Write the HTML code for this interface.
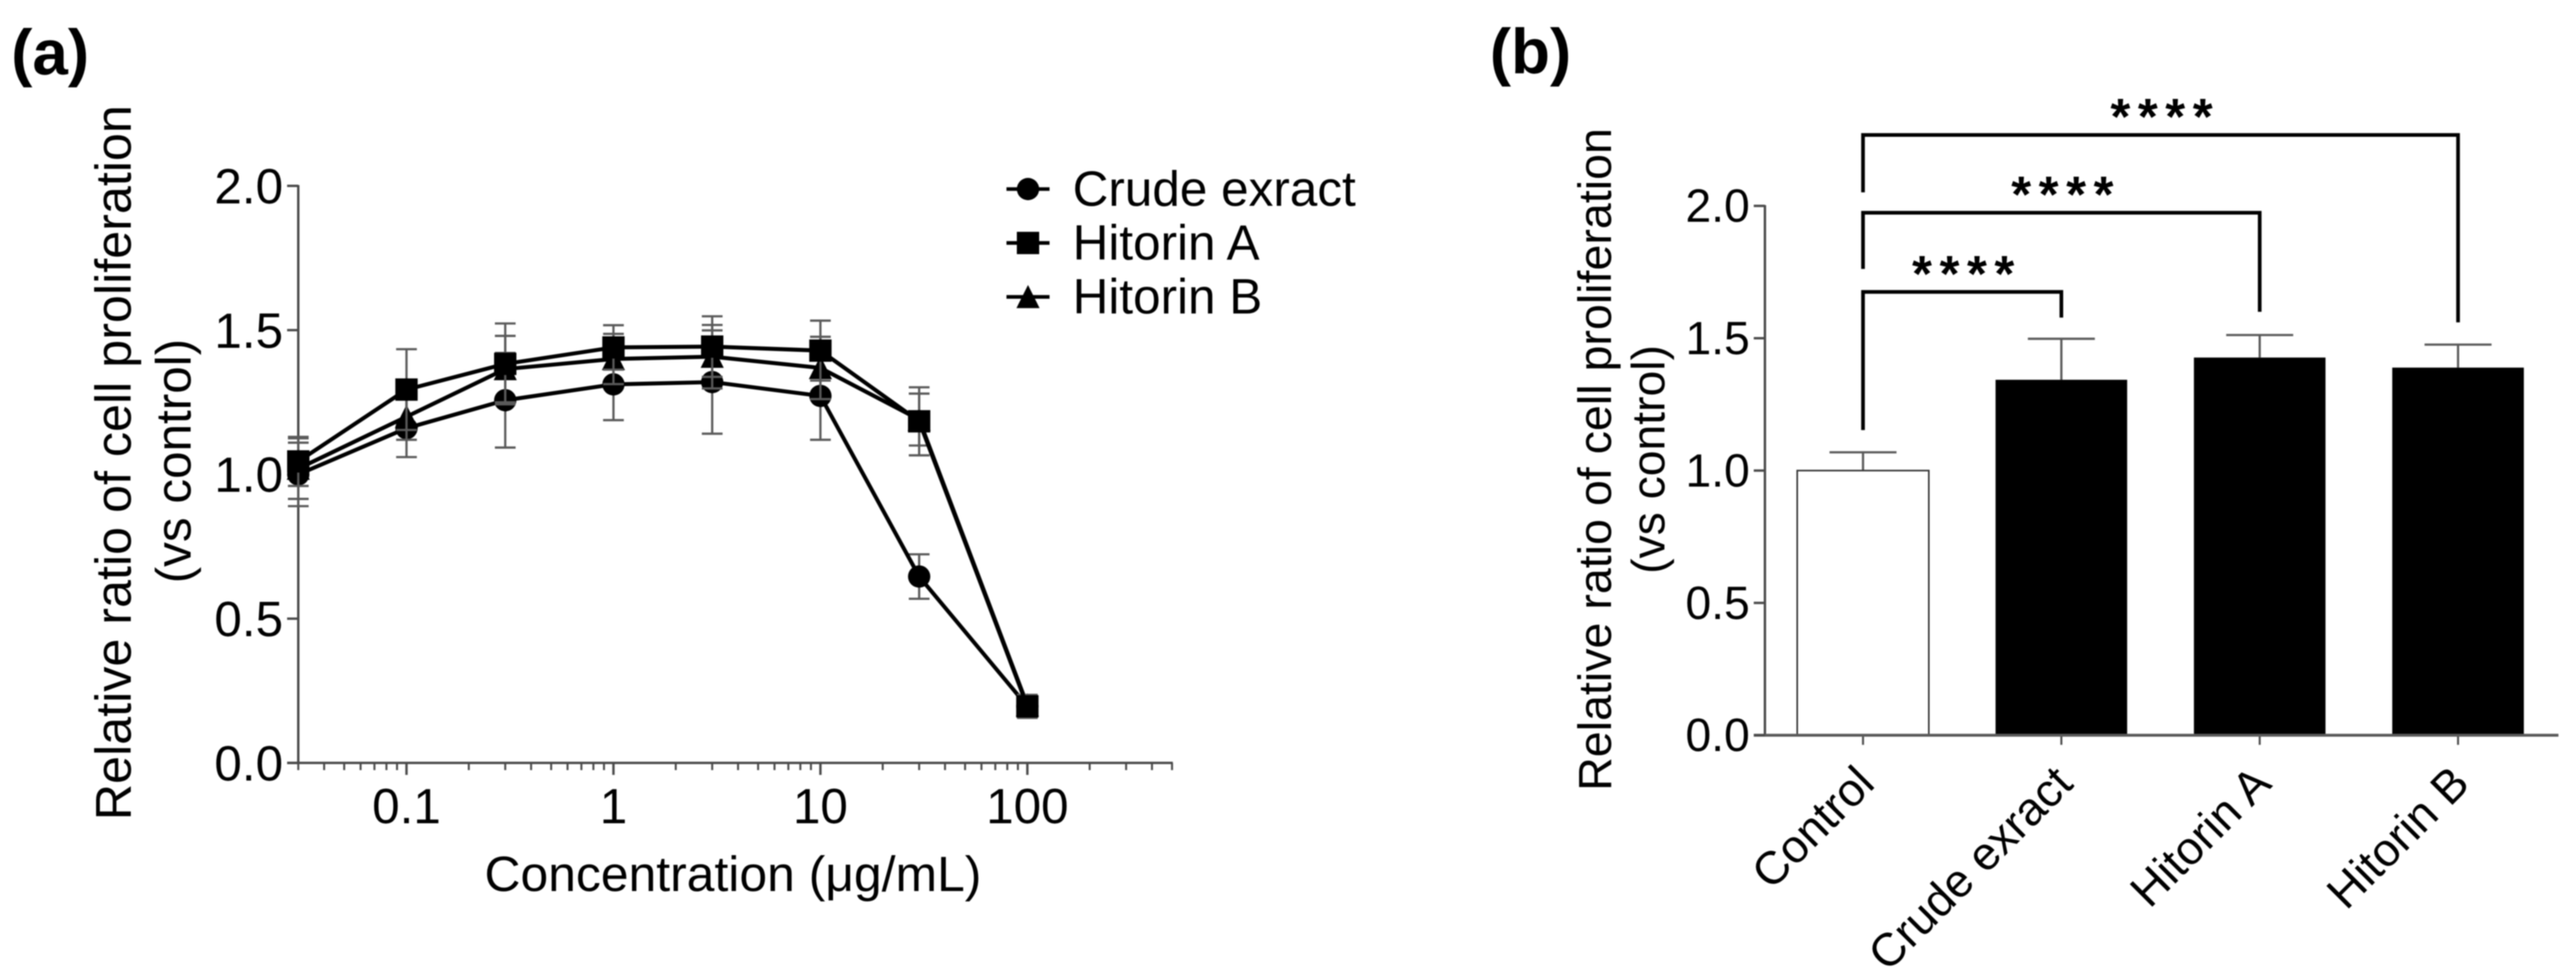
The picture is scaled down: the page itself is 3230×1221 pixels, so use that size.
<!DOCTYPE html>
<html lang="en">
<head>
<meta charset="utf-8">
<title>Cell proliferation charts</title>
<style>
  html, body { margin: 0; padding: 0; background: #ffffff; }
  body { width: 3230px; height: 1221px; overflow: hidden; }
  svg { display: block; filter: blur(0.7px); }
  text { font-family: "Liberation Sans", Arial, sans-serif; fill: #000; }
</style>
</head>
<body>
<svg id="figure" xmlns="http://www.w3.org/2000/svg" width="3230" height="1221" viewBox="0 0 3230 1221">
  <rect x="0" y="0" width="3230" height="1221" fill="#ffffff"/>
  <text x="14" y="93" font-size="80" font-weight="bold">(a)</text>
  <text x="1868" y="92" font-size="80" font-weight="bold">(b)</text>

  <g id="chartA">
    <text transform="translate(164,580) rotate(-90)" text-anchor="middle" font-size="63">Relative ratio of cell proliferation</text>
    <text transform="translate(239,578) rotate(-90)" text-anchor="middle" font-size="62">(vs control)</text>
    <text x="919" y="1117" text-anchor="middle" font-size="62.5">Concentration (μg/mL)</text>
  </g>

  <g id="chartB">
    <text transform="translate(2020,576) rotate(-90)" text-anchor="middle" font-size="58.4">Relative ratio of cell proliferation</text>
    <text transform="translate(2087,576) rotate(-90)" text-anchor="middle" font-size="58">(vs control)</text>
  </g>
</svg>

<script>
// ---------- Panel (a) data ----------
const concentrations = [0.03, 0.1, 0.3, 1, 3, 10, 30, 100];
const seriesNames = ["Crude exract", "Hitorin A", "Hitorin B"];
const crudeValues = [1.00, 1.16, 1.257, 1.312, 1.32, 1.272, 0.646, 0.196];
const crudeErrors = [0.11, 0.10, 0.164, 0.124, 0.179, 0.152, 0.077, 0.03];
const hitorinAValues = [1.045, 1.294, 1.383, 1.44, 1.443, 1.429, 1.184, 0.196];
const hitorinAErrors = [0.085, 0.14, 0.14, 0.077, 0.105, 0.104, 0.118, 0.04];
const hitorinBValues = [1.02, 1.20, 1.365, 1.40, 1.408, 1.369, 1.19, 0.20];
const hitorinBErrors = [0.105, 0.08, 0.115, 0.087, 0.11, 0.108, 0.09, 0.03];
const yTicksA = [0, 0.5, 1, 1.5, 2];
const yTickLabelsA = ["0.0", "0.5", "1.0", "1.5", "2.0"];
const xMajorTicksA = [0.1, 1, 10, 100];
const xMajorLabelsA = ["0.1", "1", "10", "100"];
const xMinorTicksA = [0.03, 0.04, 0.05, 0.06, 0.07, 0.08, 0.09, 0.2, 0.3, 0.4, 0.5, 0.6, 0.7, 0.8, 0.9, 2, 3, 4, 5, 6, 7, 8, 9, 20, 30, 40, 50, 60, 70, 80, 90, 200, 300, 400, 500];

// ---------- Panel (b) data ----------
const groups = ["Control", "Crude exract", "Hitorin A", "Hitorin B"];
const barValues = [1.0, 1.343, 1.427, 1.389];
const barErrors = [0.069, 0.155, 0.085, 0.087];
const yTicksB = [0, 0.5, 1, 1.5, 2];
const yTickLabelsB = ["0.0", "0.5", "1.0", "1.5", "2.0"];
const bracketTargets = [1, 2, 3];
const bracketLevels = [1.675, 1.974, 2.268];
const bracketLeftEnds = [1.153, 1.762, 2.051];
const bracketRightEnds = [1.578, 1.60, 1.56];
const bracketLabels = ["****", "****", "****"];

// ---------- Helpers ----------
const NS = "http://www.w3.org/2000/svg";
function make(parent, tag, attrs, txt) {
  const el = document.createElementNS(NS, tag);
  for (const k in attrs) el.setAttribute(k, attrs[k]);
  if (txt !== undefined) el.textContent = txt;
  parent.appendChild(el);
  return el;
}
const AXIS = "#4a4a4a";
const ERR = "#5a5a5a";

// ---------- Panel (a) scales ----------
const ya = v => 956.4 - v * 361.7;
const xa = c => 769.2 + 259.5 * Math.log10(c);

const gA = document.getElementById("chartA");

function drawMarker(parent, kind, cx, cy) {
  let m;
  if (kind === 0) {
    m = make(parent, "circle", { cx: cx, cy: cy, r: 14, fill: "#000" });
  } else if (kind === 1) {
    m = make(parent, "rect", { x: cx - 14, y: cy - 14, width: 28, height: 28, fill: "#000" });
  } else {
    m = make(parent, "polygon", { points: (cx - 14.5) + "," + (cy + 14) + " " + (cx + 14.5) + "," + (cy + 14) + " " + cx + "," + (cy - 15), fill: "#000" });
  }
  return m;
}

// axes
let axisY = make(gA, "line", { x1: 374, x2: 374, y1: ya(2) - 1, y2: ya(0) + 1, stroke: AXIS, "stroke-width": 3 });


let axisX = make(gA, "line", { x1: 360, x2: xa(500) + 1, y1: ya(0), y2: ya(0), stroke: AXIS, "stroke-width": 3 });



yTicksA.forEach((v, i) => {
  const t = make(gA, "line", { x1: 360, x2: 374, y1: ya(v), y2: ya(v), stroke: AXIS, "stroke-width": 3 });
  
  
  const l = make(gA, "text", { x: 355, y: ya(v) + 22, "text-anchor": "end", "font-size": 62 }, yTickLabelsA[i]);
  
  
});
xMinorTicksA.forEach(c => {
  const t = make(gA, "line", { x1: xa(c), x2: xa(c), y1: ya(0), y2: ya(0) + 9, stroke: AXIS, "stroke-width": 2.5 });
  
  
});
xMajorTicksA.forEach((c, i) => {
  const t = make(gA, "line", { x1: xa(c), x2: xa(c), y1: ya(0), y2: ya(0) + 15, stroke: AXIS, "stroke-width": 3 });
  
  
  const l = make(gA, "text", { x: xa(c), y: 1032, "text-anchor": "middle", "font-size": 62 }, xMajorLabelsA[i]);
  
  
});

// series: draw order keeps squares on top, as in the source figure
const seriesDraw = [
  { kind: 0, vals: crudeValues, errs: crudeErrors, name: "crude-exract" },
  { kind: 2, vals: hitorinBValues, errs: hitorinBErrors, name: "hitorin-b" },
  { kind: 1, vals: hitorinAValues, errs: hitorinAErrors, name: "hitorin-a" }
];
seriesDraw.forEach(s => {
  const g = make(gA, "g", {});
  
  
  s.vals.forEach((v, i) => {
    const x = xa(concentrations[i]);
    const top = ya(v + s.errs[i]);
    const bot = ya(v - s.errs[i]);
    const stem = make(g, "line", { x1: x, x2: x, y1: top, y2: bot, stroke: ERR, "stroke-width": 2.8 });
    
    
    const c1 = make(g, "line", { x1: x - 13, x2: x + 13, y1: top, y2: top, stroke: ERR, "stroke-width": 2.8 });
    
    
    const c2 = make(g, "line", { x1: x - 13, x2: x + 13, y1: bot, y2: bot, stroke: ERR, "stroke-width": 2.8 });
    
    
  });
  const pts = s.vals.map((v, i) => xa(concentrations[i]) + "," + ya(v)).join(" ");
  const pl = make(g, "polyline", { points: pts, fill: "none", stroke: "#000", "stroke-width": 5, "stroke-linejoin": "round" });
  
  
  s.vals.forEach((v, i) => {
    const m = drawMarker(g, s.kind, xa(concentrations[i]), ya(v));
    
    
  });
});

// legend
const legendKinds = [0, 1, 2];
seriesNames.forEach((n, i) => {
  const cy = 237 + i * 67.6;
  const g = make(gA, "g", {});
  
  
  make(g, "line", { x1: 1262, x2: 1316, y1: cy, y2: cy, stroke: "#000", "stroke-width": 4.6 });
  drawMarker(g, legendKinds[i], 1289, cy);
  make(g, "text", { x: 1345, y: cy + 21, "font-size": 62 }, n);
});

// ---------- Panel (b) scales ----------
const yb = v => 921.7 - v * 331.8;
const xb = i => 2336 + 248.7 * i;
const BAR_W = 165;
const gB = document.getElementById("chartB");

groups.forEach((n, i) => {
  const x = xb(i);
  const top = yb(barValues[i]);
  const errTop = yb(barValues[i] + barErrors[i]);
  const stem = make(gB, "line", { x1: x, x2: x, y1: errTop, y2: top, stroke: ERR, "stroke-width": 2.8 });
  
  
  const cap = make(gB, "line", { x1: x - 42, x2: x + 42, y1: errTop, y2: errTop, stroke: ERR, "stroke-width": 2.8 });
  
  
  const bar = make(gB, "rect", {
    x: x - BAR_W / 2, y: top, width: BAR_W, height: yb(0) - top,
    fill: i === 0 ? "#ffffff" : "#000000",
    stroke: i === 0 ? "#333" : "#000", "stroke-width": i === 0 ? 2 : 0
  });
  
  
  const t = make(gB, "line", { x1: x, x2: x, y1: yb(0), y2: yb(0) + 12, stroke: AXIS, "stroke-width": 2.5 });
  
  
  const ax = x + 17, ay = 985;
  const l = make(gB, "text", { transform: "translate(" + ax + "," + ay + ") rotate(-45)", "text-anchor": "end", "font-size": 58 }, n);
  
  
});

let axisYB = make(gB, "line", { x1: 2213, x2: 2213, y1: yb(2) - 1, y2: yb(0), stroke: AXIS, "stroke-width": 3 });


let axisXB = make(gB, "line", { x1: 2199, x2: 3208, y1: yb(0), y2: yb(0), stroke: "#5a5a5a", "stroke-width": 3.6 });



yTicksB.forEach((v, i) => {
  const t = make(gB, "line", { x1: 2199, x2: 2213, y1: yb(v), y2: yb(v), stroke: AXIS, "stroke-width": 3 });
  
  
  const l = make(gB, "text", { x: 2194, y: yb(v) + 20, "text-anchor": "end", "font-size": 58 }, yTickLabelsB[i]);
  
  
});

bracketTargets.forEach((target, i) => {
  const x0 = xb(0), x1 = xb(target);
  const level = yb(bracketLevels[i]);
  const p = make(gB, "path", {
    d: "M" + x0 + " " + yb(bracketLeftEnds[i]) + " V" + level + " H" + x1 + " V" + yb(bracketRightEnds[i]),
    fill: "none", stroke: "#000", "stroke-width": 4.6
  });
  
  
  const spacing = 9.5;
  const s = make(gB, "text", {
    x: (x0 + x1) / 2 + 6, y: level - 0,
    "text-anchor": "middle", "font-size": 64, "font-weight": "bold",
    "letter-spacing": spacing, dy: "-1"
  }, bracketLabels[i]);
  
  
});
</script>
</body>
</html>
